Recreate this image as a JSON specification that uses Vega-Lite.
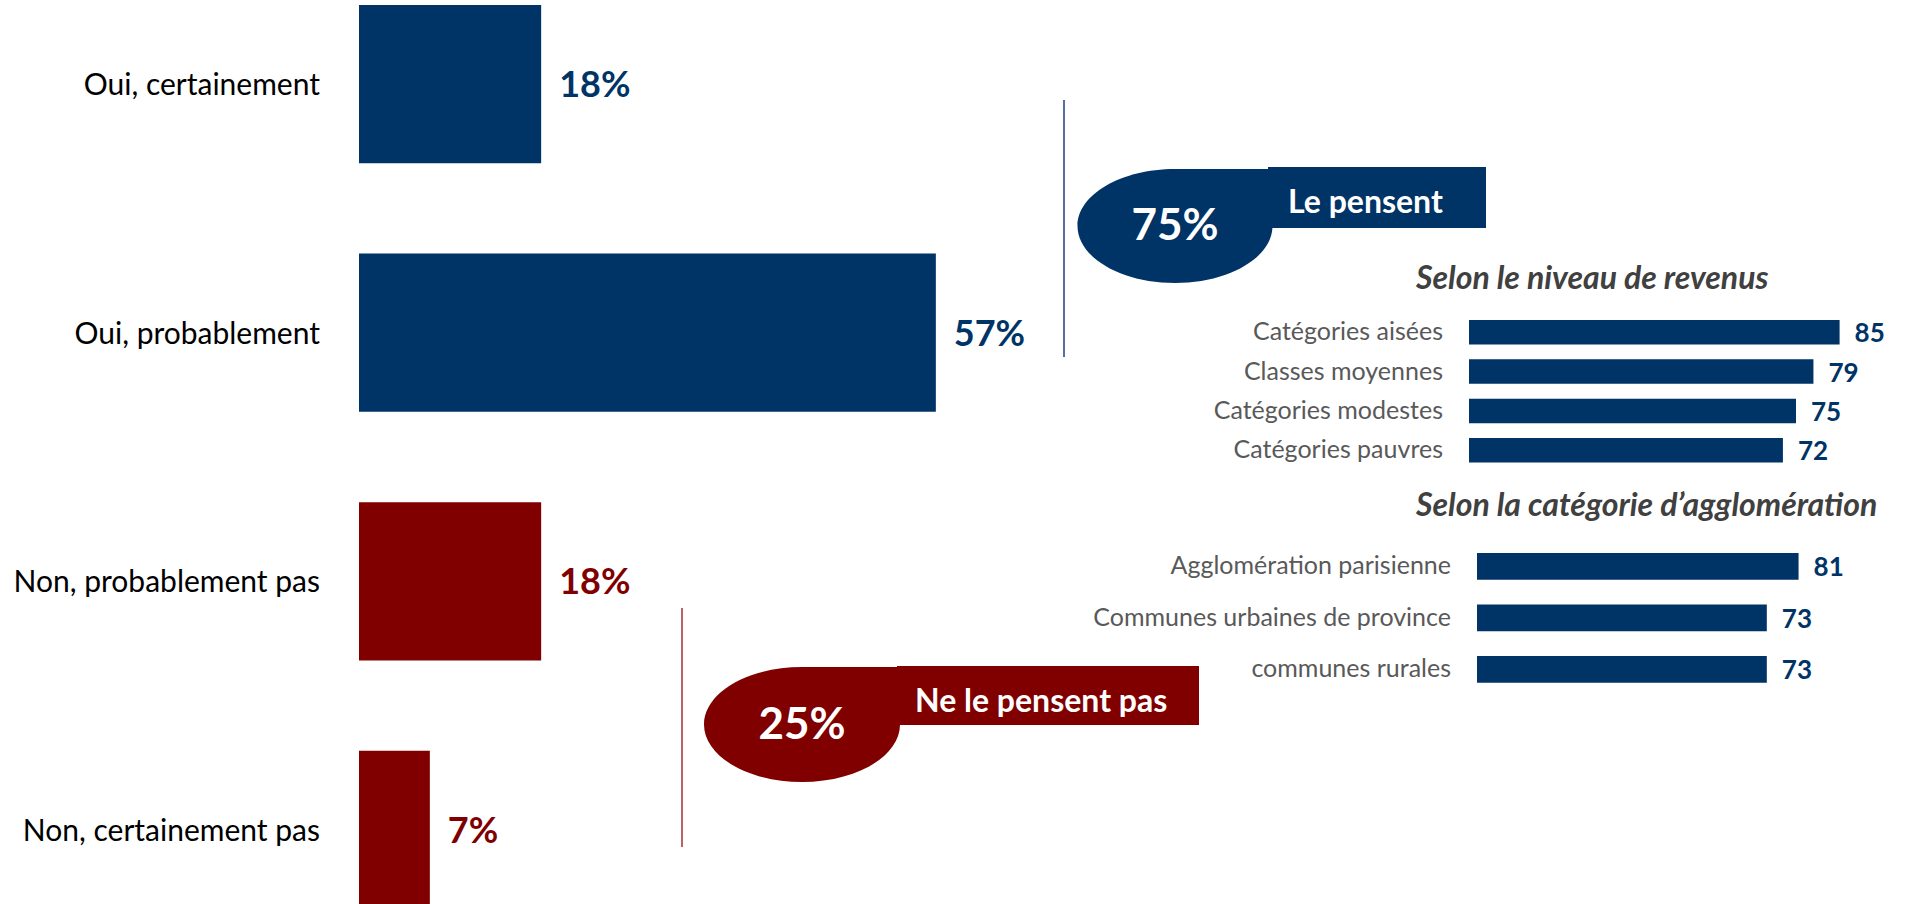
{
  "$schema": "https://vega.github.io/schema/vega-lite/v6.json",
  "width": 1906,
  "height": 904,
  "autosize": {"type": "none"},
  "padding": 0,
  "background": "white",
  "config": {"view": {"stroke": null}, "font": "Lato", "text": {"font": "Lato"}},
  "datasets": {
    "reponses": [
      {"reponse": "Oui, certainement", "pct": 0.18, "camp": "oui"},
      {"reponse": "Oui, probablement", "pct": 0.57, "camp": "oui"},
      {"reponse": "Non, probablement pas", "pct": 0.18, "camp": "non"},
      {"reponse": "Non, certainement pas", "pct": 0.07, "camp": "non"}
    ],
    "synthese": [
      {"groupe": "Le pensent", "total": 0.75, "camp": "oui"},
      {"groupe": "Ne le pensent pas", "total": 0.25, "camp": "non"}
    ],
    "revenus": [
      {"categorie": "Catégories aisées", "score": 85},
      {"categorie": "Classes moyennes", "score": 79},
      {"categorie": "Catégories modestes", "score": 75},
      {"categorie": "Catégories pauvres", "score": 72}
    ],
    "agglo": [
      {"categorie": "Agglomération parisienne", "score": 81},
      {"categorie": "Communes urbaines de province", "score": 73},
      {"categorie": "communes rurales", "score": 73}
    ]
  },
  "resolve": {"scale": {"x": "independent", "y": "independent", "color": "independent", "shape": "independent", "fill": "independent", "stroke": "independent"}},
  "layer": [
    {
      "data": {"name": "reponses"},
      "encoding": {
        "y": {"field": "reponse", "type": "nominal", "sort": null, "axis": null, "scale": {"range": [5, 909], "paddingInner": 0.364, "paddingOuter": 0}},
        "x": {"field": "pct", "type": "quantitative", "axis": null, "scale": {"domain": [0, 1], "range": [359, 1371]}},
        "color": {"field": "camp", "type": "nominal", "legend": null, "scale": {"domain": ["oui", "non"], "range": ["#003366", "#800000"]}}
      },
      "layer": [
        {"mark": {"type": "bar"}},
        {"mark": {"type": "text", "align": "left", "baseline": "middle", "dx": 18, "dy": 2, "fontSize": 36, "fontWeight": "bold"},
         "encoding": {"text": {"field": "pct", "type": "quantitative", "format": ".0%"}}},
        {"mark": {"type": "text", "align": "right", "baseline": "middle", "dx": -39, "dy": 2, "fontSize": 30},
         "encoding": {"x": {"datum": 0}, "text": {"field": "reponse"}, "color": {"value": "#000000"}}}
      ]
    },
    {
      "data": {"name": "synthese"},
      "resolve": {"scale": {"shape": "independent"}},
      "encoding": {
        "x": {"field": "total", "type": "quantitative", "axis": null, "scale": {"domain": [0, 1], "range": [615.5, 1361.5]}},
        "y": {"field": "groupe", "type": "nominal", "sort": null, "axis": null, "scale": {"range": [-23.25, 973.75], "paddingInner": 0, "paddingOuter": 0}}
      },
      "layer": [
        {"mark": {"type": "point", "filled": false, "size": 4, "strokeWidth": 1.5, "opacity": 1},
         "encoding": {
           "shape": {"field": "camp", "type": "nominal", "legend": null, "scale": {"domain": ["oui", "non"], "range": ["M-111,-126L-111,131", "M-120,-116.5L-120,122.5"]}},
           "stroke": {"field": "camp", "type": "nominal", "legend": null, "scale": {"domain": ["oui", "non"], "range": ["#1F3F80", "#A03030"]}}
         }},
        {"mark": {"type": "point", "filled": true, "size": 4, "strokeWidth": 0, "opacity": 1},
         "encoding": {
           "shape": {"field": "camp", "type": "nominal", "legend": null, "scale": {"domain": ["oui", "non"], "range": [
             "M-97.5,0A97.5,57,0,1,1,97.5,0A97.5,57,0,1,1,-97.5,0Z M0,-57L97.5,-57L97.5,0L0,0Z M93,-59L311,-59L311,2L93,2Z",
             "M-98,0A98,57.5,0,1,1,98,0A98,57.5,0,1,1,-98,0Z M0,-57.5L98,-57.5L98,0L0,0Z M95,-58.5L397,-58.5L397,0.5L95,0.5Z"
           ]}},
           "fill": {"field": "camp", "type": "nominal", "legend": null, "scale": {"domain": ["oui", "non"], "range": ["#003366", "#800000"]}}
         }},
        {"mark": {"type": "text", "align": "center", "baseline": "middle", "fontSize": 44, "fontWeight": "bold", "color": "#ffffff", "dy": 1},
         "encoding": {"text": {"field": "total", "type": "quantitative", "format": ".0%"}}},
        {"mark": {"type": "text", "align": "left", "baseline": "middle", "fontSize": 32, "fontWeight": "bold", "color": "#ffffff", "dx": 113, "dy": -23},
         "encoding": {"text": {"field": "groupe"}}}
      ]
    },
    {
      "data": {"name": "revenus"},
      "encoding": {
        "y": {"field": "categorie", "type": "nominal", "sort": null, "axis": null, "scale": {"range": [320, 462.5], "paddingInner": 0.38, "paddingOuter": 0}},
        "x": {"field": "score", "type": "quantitative", "axis": null, "scale": {"domain": [0, 100], "range": [1469, 1905]}}
      },
      "layer": [
        {"mark": {"type": "bar", "color": "#003366"}},
        {"mark": {"type": "text", "align": "left", "baseline": "middle", "dx": 15, "dy": 2, "fontSize": 26, "fontWeight": "bold", "color": "#003366"},
         "encoding": {"text": {"field": "score", "type": "quantitative"}}},
        {"mark": {"type": "text", "align": "right", "baseline": "middle", "dx": -26, "fontSize": 25, "color": "#595959"},
         "encoding": {"x": {"datum": 0}, "text": {"field": "categorie"}}},
        {"transform": [{"filter": "datum.categorie === 'Catégories aisées'"}],
         "mark": {"type": "text", "text": "Selon le niveau de revenus", "align": "left", "baseline": "middle", "dx": -53, "dy": -53, "fontSize": 32, "fontWeight": "bold", "fontStyle": "italic", "color": "#404040"},
         "encoding": {"x": {"datum": 0}}}
      ]
    },
    {
      "data": {"name": "agglo"},
      "encoding": {
        "y": {"field": "categorie", "type": "nominal", "sort": null, "axis": null, "scale": {"range": [553, 682.8], "paddingInner": 0.48, "paddingOuter": 0}},
        "x": {"field": "score", "type": "quantitative", "axis": null, "scale": {"domain": [0, 100], "range": [1477, 1874]}}
      },
      "layer": [
        {"mark": {"type": "bar", "color": "#003366"}},
        {"mark": {"type": "text", "align": "left", "baseline": "middle", "dx": 15, "dy": 2, "fontSize": 26, "fontWeight": "bold", "color": "#003366"},
         "encoding": {"text": {"field": "score", "type": "quantitative"}}},
        {"mark": {"type": "text", "align": "right", "baseline": "middle", "dx": -26, "fontSize": 25, "color": "#595959"},
         "encoding": {"x": {"datum": 0}, "text": {"field": "categorie"}}},
        {"transform": [{"filter": "datum.categorie === 'Agglomération parisienne'"}],
         "mark": {"type": "text", "text": "Selon la catégorie d’agglomération", "align": "left", "baseline": "middle", "dx": -61, "dy": -60, "fontSize": 32, "fontWeight": "bold", "fontStyle": "italic", "color": "#404040"},
         "encoding": {"x": {"datum": 0}}}
      ]
    }
  ]
}
